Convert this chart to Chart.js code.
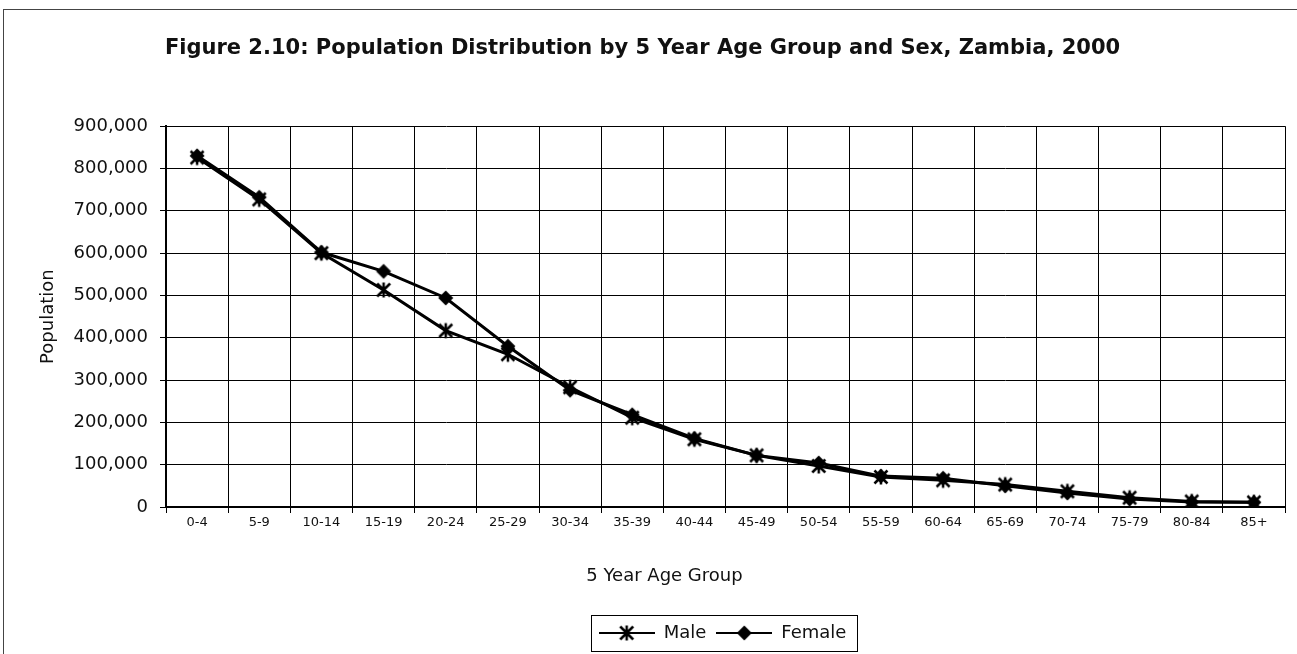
<!DOCTYPE html>
<html>
<head>
<meta charset="utf-8">
<title>Population Distribution by 5 Year Age Group and Sex, Zambia, 2000</title>
<script src="https://cdn.jsdelivr.net/npm/chart.js@4.4.1/dist/chart.umd.min.js"></script>
<style>
  html, body { margin: 0; padding: 0; background: #fff; overflow: hidden; }
  #wrap { position: relative; width: 1297px; height: 654px; }
  #frame { position: absolute; left: 3px; top: 9px; width: 1400px; height: 800px; border: 1px solid #444; }
  #chart { position: absolute; left: 0; top: 0; }
</style>
</head>
<body>
<div id="wrap"><div id="frame"></div><canvas id="chart" width="1297" height="654"></canvas></div>
<script>
'use strict';

var ageGroups = ['0-4', '5-9', '10-14', '15-19', '20-24', '25-29', '30-34', '35-39', '40-44',
  '45-49', '50-54', '55-59', '60-64', '65-69', '70-74', '75-79', '80-84', '85+'];
var maleValues = [826000, 727000, 600000, 513000, 417000, 361000, 283000, 211000, 160000,
  122000, 97000, 71000, 63000, 53000, 37000, 22000, 13000, 11000];
var femaleValues = [830000, 732000, 602000, 557000, 494000, 380000, 276000, 218000, 162000,
  122000, 104000, 73000, 68000, 50000, 33000, 19000, 12000, 11000];
var yTicks = [0, 100000, 200000, 300000, 400000, 500000, 600000, 700000, 800000, 900000];

var FONT = '"DejaVu Sans", sans-serif';
var TEXT = '#111';
var LEGEND_SHIFT = 80;
var XTITLE_SHIFT = -61;

function makeMarker(kind, w, h, withLine) {
  var c = document.createElement('canvas');
  c.width = w; c.height = h;
  var g = c.getContext('2d');
  var cx = w / 2, cy = h / 2;
  g.strokeStyle = '#000'; g.fillStyle = '#000'; g.lineWidth = 2.5;
  if (withLine) {
    g.lineWidth = 2;
    g.beginPath(); g.moveTo(0, cy); g.lineTo(w, cy); g.stroke();
    g.lineWidth = 2.5;
  }
  if (kind === 'asterisk') {
    var r = 6.5;
    g.beginPath();
    g.moveTo(cx - r, cy - r); g.lineTo(cx + r, cy + r);
    g.moveTo(cx + r, cy - r); g.lineTo(cx - r, cy + r);
    g.moveTo(cx, cy - r - 1); g.lineTo(cx, cy + r + 1);
    g.stroke();
  } else {
    var d = 7.5;
    g.beginPath();
    g.moveTo(cx, cy - d); g.lineTo(cx + d, cy); g.lineTo(cx, cy + d); g.lineTo(cx - d, cy);
    g.closePath(); g.fill();
  }
  return c;
}

var maleMarker = makeMarker('asterisk', 18, 18, false);
var femaleMarker = makeMarker('diamond', 18, 18, false);
var legendIcons = [makeMarker('asterisk', 56, 18, true), makeMarker('diamond', 56, 18, true)];

// legend box + small offsets copied from the original layout
var layoutTweaks = {
  id: 'layoutTweaks',
  afterLayout: function (chart) {
    chart.legend.left += LEGEND_SHIFT;
    chart.legend.right += LEGEND_SHIFT;
    var x = chart.scales.x;
    if (x && !x._titlePatched) {
      var drawTitle = x.drawTitle;
      x.drawTitle = function () {
        this.left += XTITLE_SHIFT; this.right += XTITLE_SHIFT;
        drawTitle.call(this);
        this.left -= XTITLE_SHIFT; this.right -= XTITLE_SHIFT;
      };
      x._titlePatched = true;
    }
  },
  afterDraw: function (chart) {
    var boxes = chart.legend.legendHitBoxes;
    if (!boxes || !boxes.length) return;
    var left = Infinity, right = -Infinity, mid = boxes[0].top + boxes[0].height / 2;
    boxes.forEach(function (b) { left = Math.min(left, b.left); right = Math.max(right, b.left + b.width); });
    var ctx = chart.ctx;
    ctx.save();
    ctx.strokeStyle = '#000';
    ctx.lineWidth = 1;
    ctx.strokeRect(Math.round(left - 8) + 0.5, Math.round(mid - 18) + 0.5, Math.round(right - left + 18), 36);
    ctx.restore();
  }
};

new Chart(document.getElementById('chart').getContext('2d'), {
  type: 'line',
  data: {
    labels: ageGroups,
    datasets: [{
      label: 'Male',
      data: maleValues,
      borderColor: '#000',
      borderWidth: 3,
      pointStyle: maleMarker,
      pointRadius: 7,
      tension: 0
    }, {
      label: 'Female',
      data: femaleValues,
      borderColor: '#000',
      borderWidth: 3,
      pointStyle: femaleMarker,
      pointRadius: 7,
      tension: 0
    }]
  },
  plugins: [layoutTweaks],
  options: {
    responsive: false,
    animation: false,
    devicePixelRatio: 1,
    layout: { padding: { left: 0, right: 12, top: 0, bottom: 2 } },
    scales: {
      x: {
        offset: true,
        afterFit: function (scale) { scale.height = 107; },
        grid: { offset: true, color: '#000', lineWidth: 1, tickLength: 6 },
        border: { color: '#000', width: 2 },
        ticks: { color: TEXT, padding: 2, maxRotation: 0, autoSkip: false, font: { family: FONT, size: 13 } },
        title: { display: true, text: '5 Year Age Group', color: TEXT, padding: { top: 0, bottom: 27 }, font: { family: FONT, size: 18 } }
      },
      y: {
        min: 0,
        max: 900000,
        afterFit: function (scale) { scale.width = 166; },
        afterBuildTicks: function (scale) { scale.ticks = yTicks.map(function (v) { return { value: v }; }); },
        grid: { color: '#000', lineWidth: 1, tickLength: 6 },
        border: { color: '#000', width: 2 },
        ticks: {
          color: TEXT, padding: 12, font: { family: FONT, size: 18 },
          callback: function (v) { return Number(v).toLocaleString('en-US'); }
        },
        title: { display: true, text: 'Population', color: TEXT, padding: { top: 38, bottom: 0 }, font: { family: FONT, size: 18 } }
      }
    },
    plugins: {
      title: {
        display: true,
        text: 'Figure 2.10: Population Distribution by 5 Year Age Group and Sex, Zambia, 2000',
        color: TEXT,
        font: { family: FONT, size: 21, weight: 'bold' },
        padding: { top: 36, bottom: 65 }
      },
      legend: {
        position: 'bottom',
        labels: {
          color: TEXT,
          usePointStyle: true,
          pointStyleWidth: 56,
          padding: 10,
          font: { family: FONT, size: 18 },
          generateLabels: function (chart) {
            var items = Chart.defaults.plugins.legend.labels.generateLabels(chart);
            items.forEach(function (item, i) { item.pointStyle = legendIcons[i]; });
            return items;
          }
        }
      },
      tooltip: { enabled: false }
    }
  }
});
</script>
</body>
</html>
